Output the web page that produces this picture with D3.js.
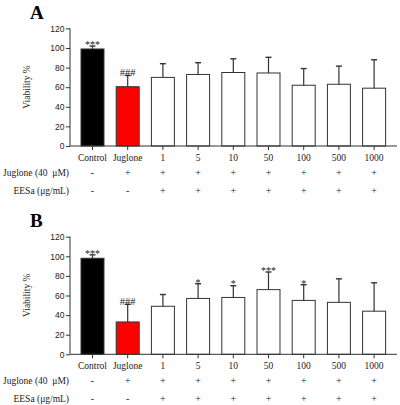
<!DOCTYPE html>
<html>
<head>
<meta charset="utf-8">
<script src="https://cdn.jsdelivr.net/npm/d3@7"></script>
<style>
  body { margin: 0; background: #fff; }
  svg { display: block; }
  .serif { font-family: "Liberation Serif", "DejaVu Serif", serif; }
  .tick text { font-family: "Liberation Sans", Arial, sans-serif; font-size: 8.5px; fill: #222; }
</style>
</head>
<body>
<svg id="chart" width="400" height="405"></svg>
<script>
const categories = ["Control", "Juglone", "1", "5", "10", "50", "100", "500", "1000"];
const jugloneRow = ["-", "+", "+", "+", "+", "+", "+", "+", "+"];
const eesaRow = ["-", "-", "+", "+", "+", "+", "+", "+", "+"];
const yTicks = [0, 20, 40, 60, 80, 100, 120];

// panel A
const meansA = [99, 60.5, 70, 73, 75, 74.5, 62, 63, 59];
const errA = [3, 11.5, 14, 12, 14, 16, 17, 18.5, 29];
const marksA = ["***", "###", "", "", "", "", "", "", ""];

// panel B
const meansB = [98, 33, 49, 57, 58, 66, 55, 53, 44];
const errB = [3.5, 18, 12, 15, 12, 18, 16, 24, 29];
const marksB = ["***", "###", "", "*", "*", "***", "*", "", ""];

const svg = d3.select('#chart');

const x = d3.scaleBand()
  .domain(categories)
  .range([70, 396.6])
  .paddingInner(0.347)
  .paddingOuter(0.3125);

function barFill(i) {
  if (i === 0) return '#000';
  if (i === 1) return '#ff0000';
  return '#fff';
}

function drawPanel(letter, means, errs, marks, top) {
  const g = svg.append('g').attr('transform', 'translate(0,' + top + ')');
  const y = d3.scaleLinear().domain([0, 120]).range([146, 28.4]);

  g.append('text')
    .attr('class', 'serif')
    .attr('x', 30)
    .attr('y', 19)
    .style('font-size', '19px')
    .style('font-weight', 'bold')
    .text(letter);

  // bars
  g.selectAll('.bar')
    .data(means)
    .enter()
    .append('rect')
    .attr('class', 'bar')
    .attr('x', (d, i) => x(categories[i]))
    .attr('y', d => y(d))
    .attr('width', x.bandwidth())
    .attr('height', d => y(0) - y(d))
    .style('fill', (d, i) => barFill(i))
    .style('stroke', '#333')
    .style('stroke-width', 1);

  // error bars (upper whisker only)
  const eb = g.selectAll('.err')
    .data(means)
    .enter()
    .append('g')
    .attr('class', 'err')
    .attr('transform', (d, i) => 'translate(' + (x(categories[i]) + x.bandwidth() / 2) + ',0)');

  eb.append('line')
    .attr('x1', 0).attr('x2', 0)
    .attr('y1', d => y(d))
    .attr('y2', (d, i) => y(d + errs[i]))
    .style('stroke', '#333')
    .style('stroke-width', 1.2);

  eb.append('line')
    .attr('x1', -3).attr('x2', 3)
    .attr('y1', (d, i) => y(d + errs[i]))
    .attr('y2', (d, i) => y(d + errs[i]))
    .style('stroke', '#333')
    .style('stroke-width', 1.4);

  eb.append('text')
    .attr('class', 'serif')
    .attr('text-anchor', 'middle')
    .attr('y', (d, i) => y(d + errs[i]) + (marks[i] === '###' ? 0.5 : 1.8))
    .style('font-size', (d, i) => marks[i] === '###' ? '10.5px' : '10px')
    .style('fill', '#222')
    .text((d, i) => marks[i]);

  // axes
  const yAxis = d3.axisLeft(y).tickValues(yTicks).tickSize(4).tickPadding(1.5);
  g.append('g')
    .attr('transform', 'translate(70,0)')
    .call(yAxis)
    .call(a => a.select('.domain').attr('d', 'M0,' + y(0) + 'V' + y(120)).style('stroke', '#333'))
    .call(a => a.selectAll('.tick line').style('stroke', '#333'));

  const xAxis = d3.axisBottom(x).tickSize(4).tickFormat('');
  g.append('g')
    .attr('transform', 'translate(0,' + y(0) + ')')
    .call(xAxis)
    .call(a => a.select('.domain').attr('d', 'M70,0H397').style('stroke', '#333'))
    .call(a => a.selectAll('.tick line').style('stroke', '#333'));

  // category labels and treatment rows
  const rows = [
    { vals: categories, yy: 161, size: '9.5px' },
    { vals: jugloneRow, yy: 176, size: '10px' },
    { vals: eesaRow, yy: 193.5, size: '10px' }
  ];
  rows.forEach(r => {
    g.selectAll(null)
      .data(r.vals)
      .enter()
      .append('text')
      .attr('class', 'serif')
      .attr('text-anchor', 'middle')
      .attr('x', (d, i) => x(categories[i]) + x.bandwidth() / 2)
      .attr('y', r.yy)
      .style('font-size', r.size)
      .style('fill', '#222')
      .text(d => d);
  });

  g.append('text')
    .attr('class', 'serif')
    .attr('text-anchor', 'end')
    .attr('x', 69)
    .attr('y', 176)
    .style('font-size', '9.5px')
    .style('fill', '#222')
    .style('white-space', 'pre')
    .text('Juglone (40  \u03bcM)');

  g.append('text')
    .attr('class', 'serif')
    .attr('text-anchor', 'end')
    .attr('x', 69)
    .attr('y', 193.5)
    .style('font-size', '9.5px')
    .style('fill', '#222')
    .text('EESa (\u03bcg/mL)');

  g.append('text')
    .attr('class', 'serif')
    .attr('text-anchor', 'middle')
    .attr('transform', 'translate(29.5,87) rotate(-90)')
    .style('font-size', '9.5px')
    .style('fill', '#222')
    .text('Viability %');
}

drawPanel('A', meansA, errA, marksA, 0);
drawPanel('B', meansB, errB, marksB, 208.3);
</script>
</body>
</html>
